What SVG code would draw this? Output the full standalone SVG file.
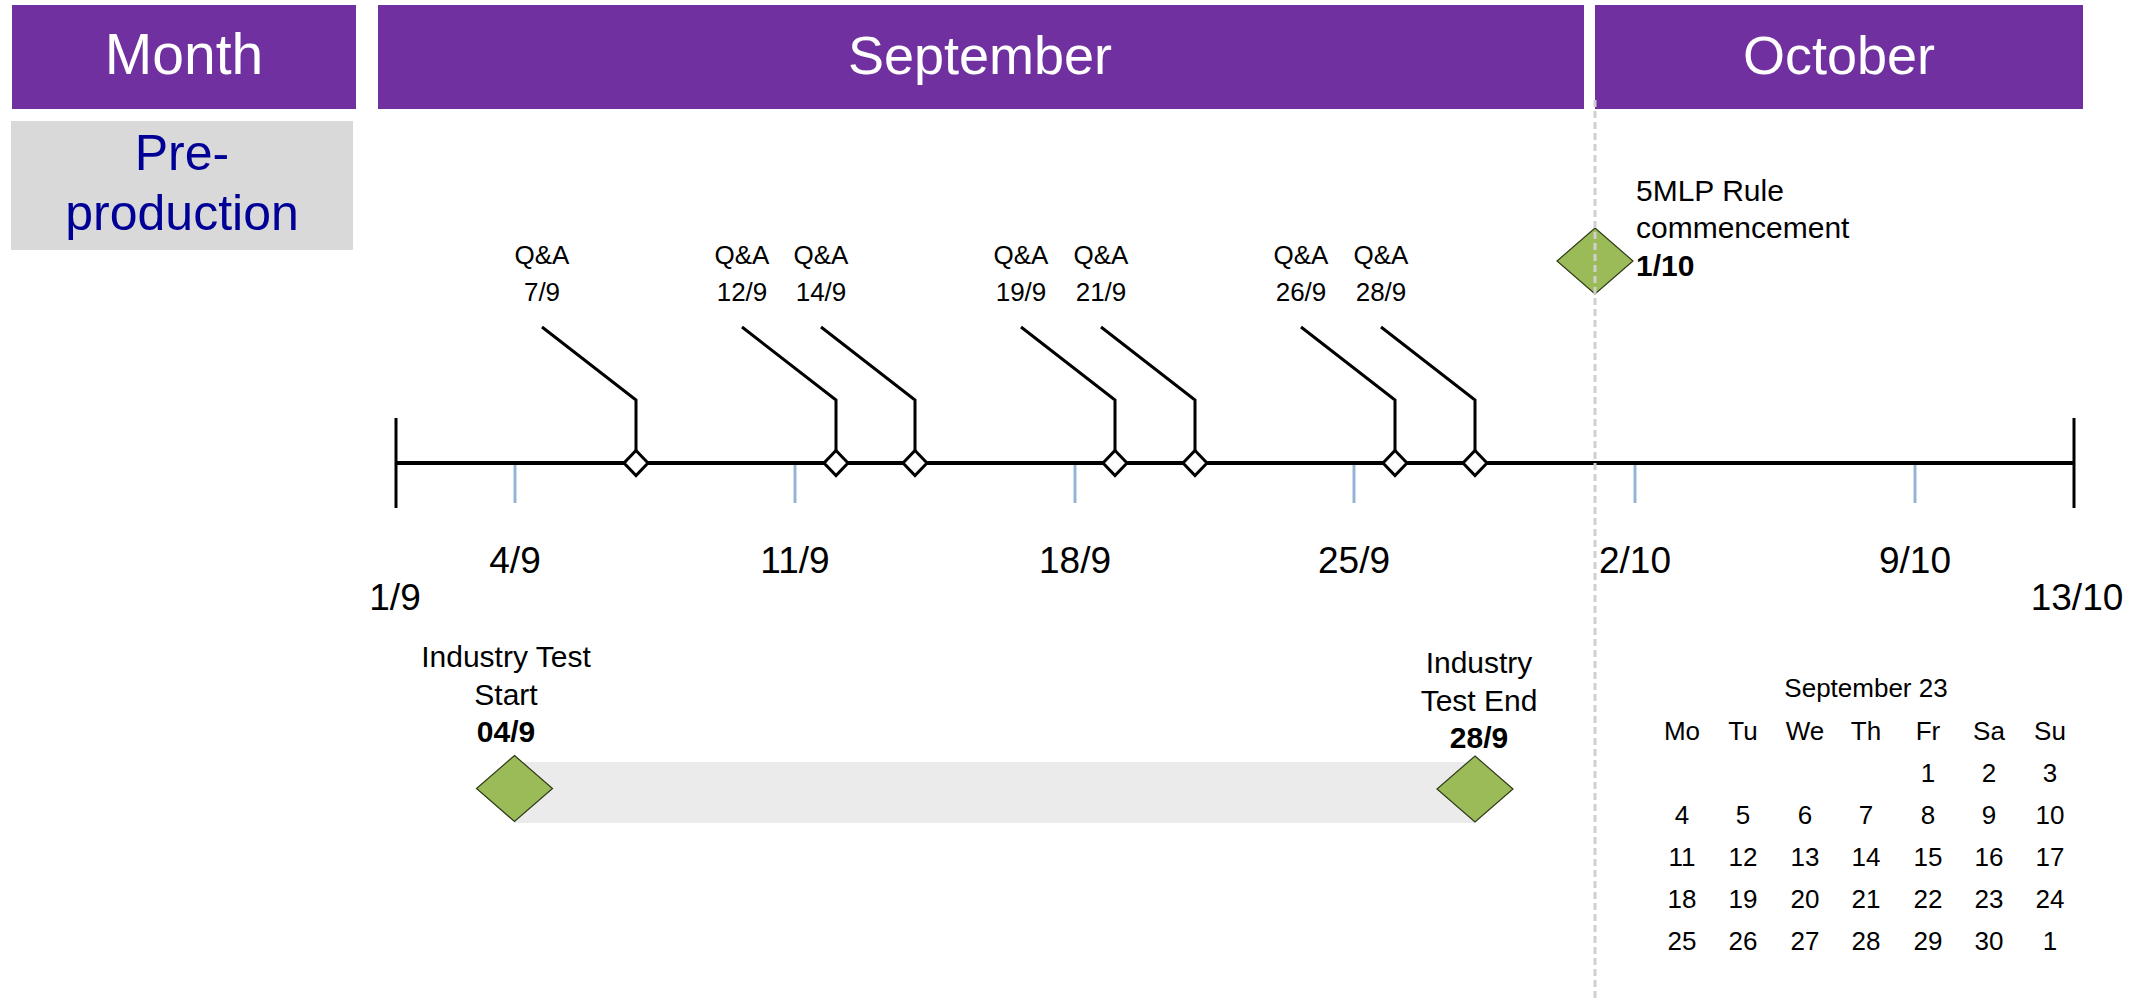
<svg xmlns="http://www.w3.org/2000/svg" width="2138" height="999" viewBox="0 0 2138 999">
  <style>
    text { font-family: "Liberation Sans", Arial, sans-serif; fill: #000; }
    .hdr { fill: #7030A0; }
    .hdrt { fill: #fff; font-size: 54px; text-anchor: middle; }
    .pre { fill: #000096; font-size: 50px; text-anchor: middle; }
    .qa { font-size: 26px; text-anchor: middle; }
    .ax { font-size: 37px; text-anchor: middle; }
    .lbl { font-size: 30px; }
    .b { font-weight: bold; }
    .cal { font-size: 26px; text-anchor: middle; }
    .lead { fill: none; stroke: #000; stroke-width: 3; }
    .ms { fill: #fff; stroke: #000; stroke-width: 3; }
    .gd { fill: #9BBB59; stroke: #2E3A18; stroke-width: 1.2; }
    .tick { stroke: #95B3D7; stroke-width: 3; }
  </style>
  <defs>
    <path id="qad" d="M0,-12.5 L12,0 L0,12.5 L-12,0 Z"/>
    <path id="gdia" d="M0,-33 L38,0 L0,33 L-38,0 Z"/>
  </defs>

  <g id="hdr-month">
    <rect class="hdr" x="12" y="5" width="344" height="104"/>
    <text class="hdrt" x="184" y="74" style="font-size:57px">Month</text>
  </g>
  <g id="hdr-september">
    <rect class="hdr" x="378" y="5" width="1206" height="104"/>
    <text class="hdrt" x="980" y="74">September</text>
  </g>
  <g id="hdr-october">
    <rect class="hdr" x="1595" y="5" width="488" height="104"/>
    <text class="hdrt" x="1839" y="74">October</text>
  </g>
  <g id="preproduction">
    <rect x="11" y="121" width="342" height="129" fill="#D9D9D9"/>
    <text class="pre" x="182" y="170">Pre-</text>
    <text class="pre" x="182" y="230">production</text>
  </g>

  <g id="industry-bar">
    <rect x="514" y="762" width="961" height="61" fill="#EBEBEB"/>
  </g>

  <g id="axis">
    <line x1="396" y1="463" x2="2074" y2="463" stroke="#000" stroke-width="4"/>
    <line x1="396" y1="418" x2="396" y2="508" stroke="#000" stroke-width="3"/>
    <line x1="2074" y1="418" x2="2074" y2="508" stroke="#000" stroke-width="3"/>
    <line class="tick" x1="515" y1="465" x2="515" y2="503"/>
    <line class="tick" x1="795" y1="465" x2="795" y2="503"/>
    <line class="tick" x1="1075" y1="465" x2="1075" y2="503"/>
    <line class="tick" x1="1354" y1="465" x2="1354" y2="503"/>
    <line class="tick" x1="1635" y1="465" x2="1635" y2="503"/>
    <line class="tick" x1="1915" y1="465" x2="1915" y2="503"/>
    <text class="ax" x="395" y="610">1/9</text>
    <text class="ax" x="515" y="573">4/9</text>
    <text class="ax" x="795" y="573">11/9</text>
    <text class="ax" x="1075" y="573">18/9</text>
    <text class="ax" x="1354" y="573">25/9</text>
    <text class="ax" x="1635" y="573">2/10</text>
    <text class="ax" x="1915" y="573">9/10</text>
    <text class="ax" x="2077" y="610">13/10</text>
  </g>

  <g id="connectors">
    <polyline class="lead" points="542,327 636,400 636,451"/>
    <polyline class="lead" points="742,327 836,400 836,451"/>
    <polyline class="lead" points="821,327 915,400 915,451"/>
    <polyline class="lead" points="1021,327 1115,400 1115,451"/>
    <polyline class="lead" points="1101,327 1195,400 1195,451"/>
    <polyline class="lead" points="1301,327 1395,400 1395,451"/>
    <polyline class="lead" points="1381,327 1475,400 1475,451"/>
  </g>

  <g id="qa-7-9">
    <use href="#qad" class="ms" x="636" y="463"/>
    <text class="qa" x="542" y="264">Q&amp;A</text>
    <text class="qa" x="542" y="301">7/9</text>
  </g>
  <g id="qa-12-9">
    <use href="#qad" class="ms" x="836" y="463"/>
    <text class="qa" x="742" y="264">Q&amp;A</text>
    <text class="qa" x="742" y="301">12/9</text>
  </g>
  <g id="qa-14-9">
    <use href="#qad" class="ms" x="915" y="463"/>
    <text class="qa" x="821" y="264">Q&amp;A</text>
    <text class="qa" x="821" y="301">14/9</text>
  </g>
  <g id="qa-19-9">
    <use href="#qad" class="ms" x="1115" y="463"/>
    <text class="qa" x="1021" y="264">Q&amp;A</text>
    <text class="qa" x="1021" y="301">19/9</text>
  </g>
  <g id="qa-21-9">
    <use href="#qad" class="ms" x="1195" y="463"/>
    <text class="qa" x="1101" y="264">Q&amp;A</text>
    <text class="qa" x="1101" y="301">21/9</text>
  </g>
  <g id="qa-26-9">
    <use href="#qad" class="ms" x="1395" y="463"/>
    <text class="qa" x="1301" y="264">Q&amp;A</text>
    <text class="qa" x="1301" y="301">26/9</text>
  </g>
  <g id="qa-28-9">
    <use href="#qad" class="ms" x="1475" y="463"/>
    <text class="qa" x="1381" y="264">Q&amp;A</text>
    <text class="qa" x="1381" y="301">28/9</text>
  </g>

  <g id="industry-start">
    <use href="#gdia" class="gd" x="514.5" y="788.5"/>
    <text class="lbl" x="506" y="667" text-anchor="middle">Industry Test</text>
    <text class="lbl" x="506" y="705" text-anchor="middle">Start</text>
    <text class="lbl b" x="506" y="742" text-anchor="middle">04/9</text>
  </g>
  <g id="industry-end">
    <use href="#gdia" class="gd" x="1475" y="789"/>
    <text class="lbl" x="1479" y="673" text-anchor="middle">Industry</text>
    <text class="lbl" x="1479" y="711" text-anchor="middle">Test End</text>
    <text class="lbl b" x="1479" y="748" text-anchor="middle">28/9</text>
  </g>

  <g id="rule-5mlp">
    <use href="#gdia" class="gd" x="1595" y="261"/>
    <text class="lbl" x="1636" y="201">5MLP Rule</text>
    <text class="lbl" x="1636" y="238">commencement</text>
    <text class="lbl b" x="1636" y="276">1/10</text>
  </g>

  <g id="month-divider">
    <line x1="1595" y1="100" x2="1595" y2="999" stroke="#D0D0D0" stroke-width="3" stroke-dasharray="7,4"/>
  </g>

  <g id="calendar">
    <text class="cal" x="1866" y="697">September 23</text>
    <text class="cal" x="1682" y="740">Mo</text>
    <text class="cal" x="1743" y="740">Tu</text>
    <text class="cal" x="1805" y="740">We</text>
    <text class="cal" x="1866" y="740">Th</text>
    <text class="cal" x="1928" y="740">Fr</text>
    <text class="cal" x="1989" y="740">Sa</text>
    <text class="cal" x="2050" y="740">Su</text>
    <text class="cal" x="1928" y="782">1</text>
    <text class="cal" x="1989" y="782">2</text>
    <text class="cal" x="2050" y="782">3</text>
    <text class="cal" x="1682" y="824">4</text>
    <text class="cal" x="1743" y="824">5</text>
    <text class="cal" x="1805" y="824">6</text>
    <text class="cal" x="1866" y="824">7</text>
    <text class="cal" x="1928" y="824">8</text>
    <text class="cal" x="1989" y="824">9</text>
    <text class="cal" x="2050" y="824">10</text>
    <text class="cal" x="1682" y="866">11</text>
    <text class="cal" x="1743" y="866">12</text>
    <text class="cal" x="1805" y="866">13</text>
    <text class="cal" x="1866" y="866">14</text>
    <text class="cal" x="1928" y="866">15</text>
    <text class="cal" x="1989" y="866">16</text>
    <text class="cal" x="2050" y="866">17</text>
    <text class="cal" x="1682" y="908">18</text>
    <text class="cal" x="1743" y="908">19</text>
    <text class="cal" x="1805" y="908">20</text>
    <text class="cal" x="1866" y="908">21</text>
    <text class="cal" x="1928" y="908">22</text>
    <text class="cal" x="1989" y="908">23</text>
    <text class="cal" x="2050" y="908">24</text>
    <text class="cal" x="1682" y="950">25</text>
    <text class="cal" x="1743" y="950">26</text>
    <text class="cal" x="1805" y="950">27</text>
    <text class="cal" x="1866" y="950">28</text>
    <text class="cal" x="1928" y="950">29</text>
    <text class="cal" x="1989" y="950">30</text>
    <text class="cal" x="2050" y="950">1</text>
  </g>
</svg>
